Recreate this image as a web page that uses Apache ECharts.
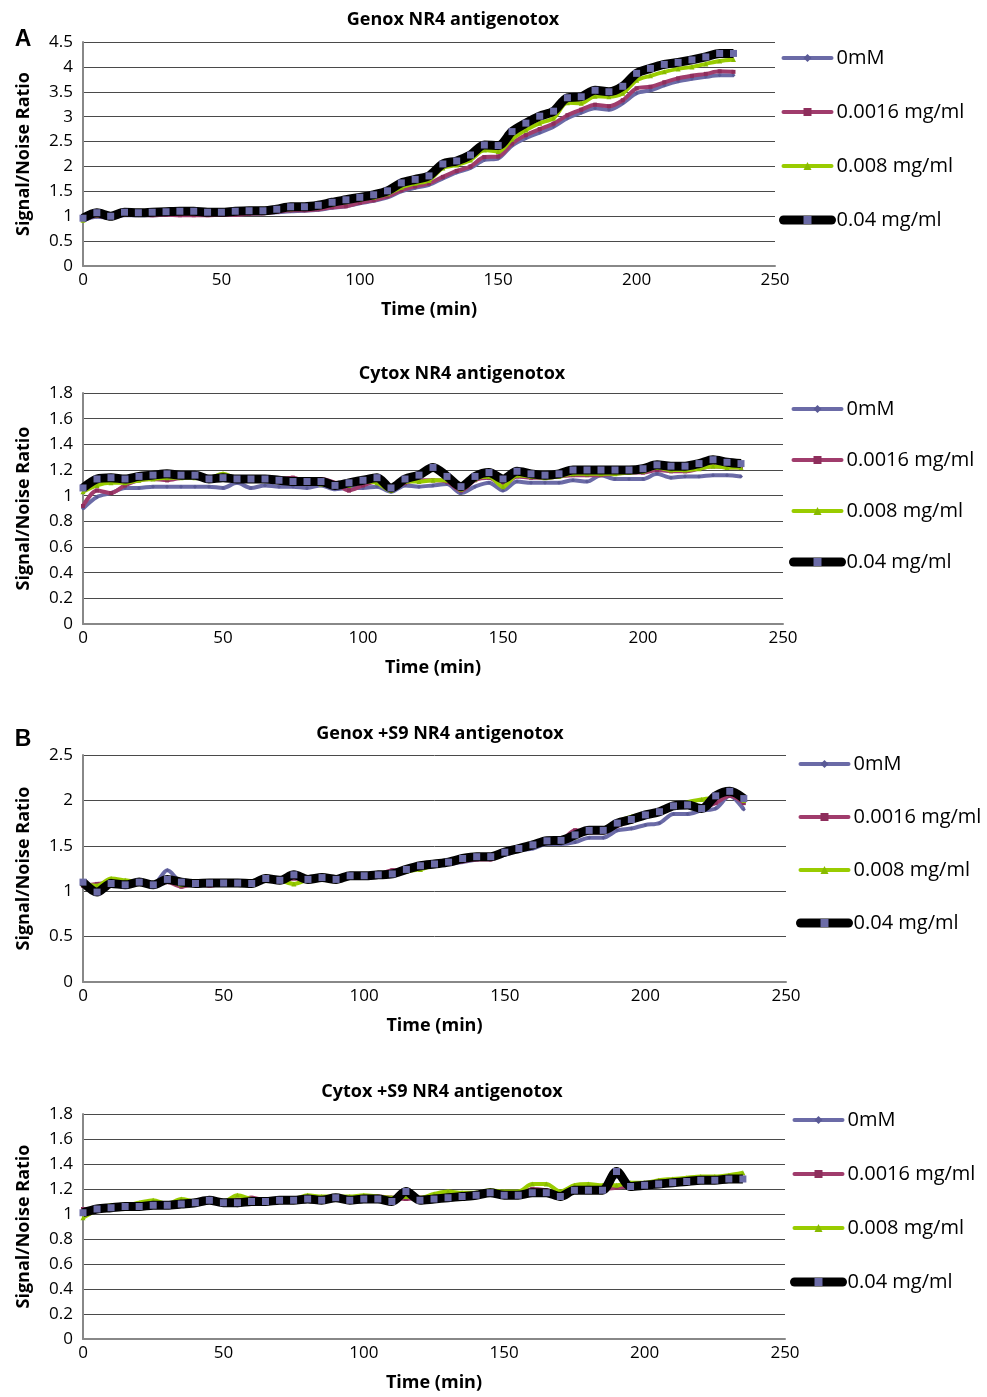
<!DOCTYPE html>
<html>
<head>
<meta charset="utf-8">
<script src="https://cdn.jsdelivr.net/npm/echarts@6/dist/echarts.min.js"></script>
<style>
  html, body { margin: 0; padding: 0; background: #fff; }
  #main { width: 987px; height: 1397px; }
</style>
</head>
<body>
<div id="main"></div>
<script>
// time points (min)
var TIME = [0,5,10,15,20,25,30,35,40,45,50,55,60,65,70,75,80,85,90,95,100,105,110,115,
  120,125,130,135,140,145,150,155,160,165,170,175,180,185,190,195,200,205,210,215,220,225,230,235]
var NAMES = ['0mM', '0.0016 mg/ml', '0.008 mg/ml', '0.04 mg/ml']

// A - Genox NR4 antigenotox
var genox_0 = [0.92,0.99,0.97,1.02,1.02,1.02,1.03,1.03,1.03,1.03,1.04,1.04,1.05,1.06,1.08,1.10,1.11,1.13,1.17,1.20,1.26,1.31,1.38,1.50,
  1.57,1.63,1.76,1.88,1.97,2.13,2.16,2.42,2.57,2.68,2.80,2.97,3.08,3.17,3.14,3.27,3.47,3.53,3.63,3.71,3.76,3.80,3.83,3.83]
var genox_0016 = [0.95,1.01,0.97,1.03,1.03,1.02,1.03,1.02,1.02,1.02,1.03,1.03,1.05,1.06,1.09,1.12,1.12,1.14,1.18,1.20,1.27,1.32,1.40,1.52,
  1.60,1.66,1.79,1.91,2.00,2.19,2.20,2.46,2.63,2.75,2.86,3.03,3.14,3.24,3.21,3.33,3.57,3.60,3.69,3.77,3.82,3.86,3.91,3.90]
var genox_008 = [0.92,1.03,0.98,1.05,1.05,1.06,1.07,1.08,1.08,1.07,1.07,1.09,1.10,1.12,1.12,1.15,1.16,1.19,1.24,1.29,1.34,1.38,1.45,1.58,
  1.66,1.72,1.97,2.03,2.13,2.33,2.30,2.55,2.73,2.87,2.97,3.28,3.27,3.41,3.40,3.47,3.73,3.82,3.90,3.96,4.00,4.06,4.12,4.15]
var genox_04 = [0.96,1.07,1.00,1.08,1.07,1.08,1.09,1.10,1.10,1.08,1.08,1.10,1.11,1.11,1.14,1.19,1.19,1.22,1.28,1.33,1.38,1.43,1.51,1.67,
  1.74,1.81,2.05,2.11,2.23,2.43,2.42,2.70,2.87,3.01,3.11,3.38,3.40,3.53,3.50,3.61,3.87,3.97,4.05,4.09,4.14,4.20,4.27,4.27]

// Cytox NR4 antigenotox
var cytox_0 = [0.90,0.99,1.02,1.06,1.06,1.07,1.07,1.07,1.07,1.07,1.06,1.10,1.06,1.08,1.07,1.07,1.06,1.08,1.05,1.06,1.06,1.07,1.03,1.08,
  1.07,1.08,1.09,1.02,1.07,1.10,1.04,1.11,1.10,1.10,1.10,1.12,1.11,1.16,1.13,1.13,1.13,1.17,1.14,1.15,1.15,1.16,1.16,1.15]
var cytox_0016 = [0.92,1.04,1.02,1.08,1.12,1.13,1.12,1.14,1.15,1.12,1.13,1.12,1.12,1.12,1.13,1.14,1.11,1.13,1.10,1.04,1.08,1.11,1.05,1.10,
  1.12,1.12,1.11,1.04,1.12,1.14,1.08,1.15,1.14,1.14,1.15,1.16,1.16,1.16,1.17,1.18,1.18,1.20,1.19,1.19,1.21,1.23,1.22,1.22]
var cytox_008 = [1.03,1.08,1.10,1.10,1.12,1.13,1.14,1.14,1.14,1.14,1.17,1.13,1.12,1.12,1.11,1.10,1.10,1.09,1.08,1.08,1.11,1.10,1.04,1.11,
  1.11,1.12,1.12,1.05,1.13,1.15,1.07,1.16,1.15,1.14,1.15,1.17,1.17,1.17,1.17,1.18,1.19,1.22,1.20,1.20,1.21,1.23,1.22,1.22]
var cytox_04 = [1.06,1.13,1.14,1.13,1.15,1.16,1.17,1.16,1.16,1.13,1.14,1.13,1.13,1.13,1.12,1.11,1.11,1.11,1.08,1.10,1.12,1.14,1.06,1.13,
  1.16,1.22,1.15,1.07,1.15,1.18,1.13,1.19,1.17,1.16,1.17,1.20,1.20,1.20,1.20,1.20,1.21,1.24,1.23,1.23,1.25,1.28,1.26,1.25]

// B - Genox +S9 NR4 antigenotox
var genoxS9_0 = [1.10,1.05,1.10,1.08,1.10,1.08,1.23,1.10,1.09,1.09,1.09,1.09,1.08,1.13,1.12,1.15,1.13,1.15,1.13,1.16,1.17,1.18,1.19,1.24,
  1.27,1.28,1.30,1.32,1.35,1.37,1.40,1.45,1.47,1.52,1.52,1.54,1.59,1.59,1.67,1.69,1.73,1.75,1.85,1.85,1.89,1.91,2.05,1.90]
var genoxS9_0016 = [1.06,1.08,1.09,1.08,1.08,1.08,1.10,1.05,1.08,1.06,1.09,1.10,1.09,1.13,1.12,1.14,1.13,1.15,1.14,1.17,1.17,1.18,1.23,1.23,
  1.27,1.32,1.31,1.33,1.35,1.35,1.42,1.46,1.51,1.55,1.56,1.67,1.65,1.65,1.72,1.77,1.82,1.86,1.92,1.93,1.92,1.97,2.05,1.97]
var genoxS9_008 = [1.08,1.06,1.14,1.12,1.10,1.08,1.12,1.07,1.10,1.10,1.10,1.09,1.09,1.13,1.12,1.08,1.13,1.16,1.15,1.17,1.17,1.19,1.19,1.22,
  1.24,1.29,1.32,1.35,1.37,1.39,1.44,1.47,1.52,1.57,1.56,1.60,1.68,1.69,1.77,1.82,1.86,1.88,1.93,1.98,2.01,2.04,2.12,2.00]
var genoxS9_04 = [1.10,0.99,1.085,1.07,1.10,1.07,1.13,1.10,1.085,1.09,1.09,1.09,1.085,1.14,1.12,1.18,1.13,1.15,1.13,1.17,1.17,1.18,1.19,1.24,
  1.28,1.30,1.32,1.36,1.38,1.38,1.43,1.47,1.51,1.555,1.56,1.62,1.67,1.67,1.75,1.79,1.84,1.875,1.94,1.95,1.91,2.05,2.10,2.02]

// Cytox +S9 NR4 antigenotox
var cytoxS9_0 = [1.02,1.03,1.05,1.06,1.07,1.07,1.07,1.08,1.09,1.10,1.09,1.07,1.10,1.10,1.11,1.11,1.12,1.12,1.13,1.12,1.12,1.12,1.11,1.15,
  1.12,1.13,1.13,1.15,1.16,1.18,1.16,1.16,1.19,1.18,1.15,1.19,1.20,1.20,1.30,1.23,1.23,1.24,1.25,1.26,1.27,1.27,1.28,1.28]
var cytoxS9_0016 = [1.04,1.04,1.06,1.07,1.08,1.08,1.08,1.09,1.10,1.11,1.10,1.11,1.13,1.11,1.12,1.12,1.13,1.13,1.13,1.13,1.14,1.14,1.13,1.12,
  1.13,1.14,1.15,1.15,1.16,1.17,1.16,1.16,1.20,1.19,1.17,1.19,1.20,1.20,1.21,1.22,1.23,1.24,1.25,1.26,1.27,1.27,1.28,1.29]
var cytoxS9_008 = [0.97,1.03,1.07,1.07,1.09,1.11,1.08,1.12,1.10,1.11,1.10,1.15,1.12,1.11,1.12,1.12,1.15,1.14,1.14,1.14,1.15,1.14,1.13,1.14,
  1.13,1.16,1.18,1.17,1.17,1.19,1.18,1.18,1.24,1.24,1.18,1.23,1.24,1.23,1.23,1.25,1.25,1.27,1.28,1.29,1.30,1.30,1.31,1.33]
var cytoxS9_04 = [1.01,1.04,1.05,1.06,1.06,1.07,1.07,1.08,1.09,1.11,1.09,1.09,1.10,1.10,1.11,1.11,1.12,1.11,1.13,1.11,1.12,1.12,1.10,1.18,
  1.11,1.12,1.13,1.14,1.15,1.17,1.15,1.15,1.17,1.17,1.14,1.19,1.19,1.19,1.34,1.22,1.23,1.24,1.25,1.26,1.27,1.27,1.28,1.28]

var panels = [
  { title: 'Genox NR4 antigenotox', tx: 453, ty: 20, ymax: 4.5, step: 0.5,
    grid: { left: 83, top: 42, width: 692, height: 224 }, legendLeft: 774, legendTop: 42, legendGap: 32,
    series: [genox_0, genox_0016, genox_008, genox_04] },
  { title: 'Cytox NR4 antigenotox', tx: 462, ty: 374, ymax: 1.8, step: 0.2,
    grid: { left: 83, top: 393, width: 700, height: 231 }, legendLeft: 784, legendTop: 393, legendGap: 29,
    series: [cytox_0, cytox_0016, cytox_008, cytox_04] },
  { title: 'Genox +S9 NR4 antigenotox', tx: 440, ty: 734, ymax: 2.5, step: 0.5,
    grid: { left: 83, top: 755, width: 703, height: 227 }, legendLeft: 791, legendTop: 748, legendGap: 31,
    series: [genoxS9_0, genoxS9_0016, genoxS9_008, genoxS9_04] },
  { title: 'Cytox +S9 NR4 antigenotox', tx: 442, ty: 1092, ymax: 1.8, step: 0.2,
    grid: { left: 83, top: 1114, width: 702, height: 225 }, legendLeft: 785, legendTop: 1104, legendGap: 32,
    series: [cytoxS9_0, cytoxS9_0016, cytoxS9_008, cytoxS9_04] }
]

var FONT = 'Open Sans'
var BLUE = '#6b6ba7'
var styles = [
  { line: BLUE, width: 4, symbol: 'diamond', size: 4, mark: '#5a5a96' },
  { line: '#a03c6c', width: 4, symbol: 'rect', size: 4, mark: '#8e2e5c' },
  { line: '#99cc00', width: 4, symbol: 'triangle', size: 5, mark: '#88bb00' },
  { line: '#000000', width: 9, symbol: 'rect', size: 7, mark: BLUE }
]

var chart = echarts.init(document.getElementById('main'))

var grids = [], xAxes = [], yAxes = [], legends = [], series = []
panels.forEach(function (p, gi) {
  grids.push(p.grid)
  xAxes.push({
    type: 'value', gridIndex: gi, min: 0, max: 250, interval: 50,
    name: 'Time (min)', nameLocation: 'middle', nameGap: 35,
    nameTextStyle: { fontFamily: FONT, fontWeight: 'bold', fontSize: 18, color: '#000' },
    axisLine: { show: true, lineStyle: { color: '#888', width: 2 } },
    axisTick: { show: false },
    splitLine: { show: false },
    axisLabel: { fontFamily: FONT, fontSize: 17, color: '#000', margin: 6 }
  })
  yAxes.push({
    type: 'value', gridIndex: gi, min: 0, max: p.ymax, interval: p.step,
    name: 'Signal/Noise Ratio', nameLocation: 'middle', nameGap: 50, nameRotate: 90,
    nameTextStyle: { fontFamily: FONT, fontWeight: 'bold', fontSize: 18, color: '#000' },
    axisLine: { show: true, lineStyle: { color: '#888', width: 2 } },
    axisTick: { show: false },
    splitLine: { show: true, lineStyle: { color: '#4a4a4a', width: 1 } },
    axisLabel: { fontFamily: FONT, fontSize: 17, color: '#000', margin: 10,
      formatter: function (v) { return String(Math.round(v * 10) / 10) } }
  })
  legends.push({
    orient: 'vertical', left: p.legendLeft, top: p.legendTop,
    itemWidth: 48, itemHeight: 10, itemGap: p.legendGap,
    selectedMode: false,
    data: NAMES.map(function (n, i) {
      return { name: n, lineStyle: { width: styles[i].width, cap: 'round' } }
    }),
    textStyle: { fontFamily: FONT, fontSize: 20, color: '#000', lineHeight: 22 }
  })
  p.series.forEach(function (vals, si) {
    var st = styles[si]
    series.push({
      name: NAMES[si], type: 'line', xAxisIndex: gi, yAxisIndex: gi,
      data: TIME.map(function (t, i) { return [t, vals[i]] }),
      smooth: 0.3, symbol: st.symbol, symbolSize: st.size, showSymbol: true,
      lineStyle: { color: st.line, width: st.width },
      itemStyle: { color: st.mark, borderWidth: 0 },
      animation: false, z: 2 + si
    })
  })
})

var graphics = panels.map(function (p) {
  return { type: 'text', x: p.tx, y: p.ty,
    style: { text: p.title, align: 'center', verticalAlign: 'middle',
      font: 'bold 18px "' + FONT + '"', fill: '#000' } }
})
graphics.push({ type: 'text', x: 23, y: 40,
  style: { text: 'A', align: 'center', verticalAlign: 'middle', font: 'bold 23px Arial', fill: '#000' } })
graphics.push({ type: 'text', x: 23, y: 740,
  style: { text: 'B', align: 'center', verticalAlign: 'middle', font: 'bold 23px Arial', fill: '#000' } })

chart.setOption({
  animation: false,
  grid: grids,
  xAxis: xAxes,
  yAxis: yAxes,
  legend: legends,
  series: series,
  graphic: graphics
})
</script>
</body>
</html>
